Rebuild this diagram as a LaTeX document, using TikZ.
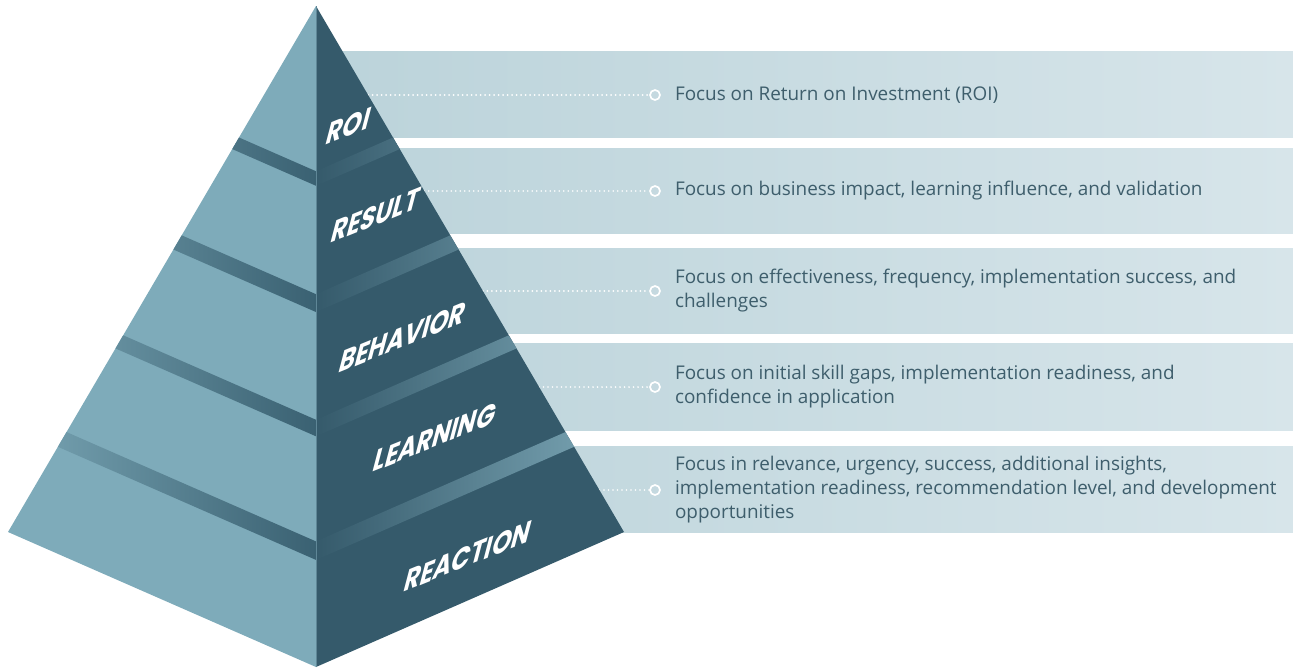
\documentclass[tikz,border=0pt]{standalone}
\usepackage{fontspec}
\setmainfont{Open Sans}
\newfontfamily\levelfont{Poppins}
\usetikzlibrary{calc,positioning}
\definecolor{PyrLight}{HTML}{7EABBA}
\definecolor{PyrDark}{HTML}{355A6B}
\definecolor{PyrEdge}{HTML}{5F8797}
\definecolor{BandLight}{HTML}{7AA6B5}
\definecolor{BandDark}{HTML}{3A6172}
\definecolor{BandTip}{HTML}{7DA8B7}
\definecolor{PanelLeft}{HTML}{BBD3DA}
\definecolor{PanelRight}{HTML}{D7E5EA}
\definecolor{FocusText}{HTML}{3E5E6C}
\tikzset{
  focusdot/.style={circle,draw=white,line width=1.7pt,minimum size=10pt,inner sep=0pt},
  focustext/.style={anchor=west,align=left,text=FocusText,inner sep=0pt,
    font=\fontsize{18.9}{24}\selectfont},
  dotline/.style={white,line width=1.8pt,line cap=round,dash pattern=on 0pt off 4.5pt},
  levellabel/.style={text=white,inner sep=0pt,font=\levelfont\bfseries\fontsize{26}{26}\selectfont,
    cm={0.94,0.38,0.32,1.22,(0,0)}}
}
\begin{document}
\begin{tikzpicture}[x=1pt,y=-1pt]
\useasboundingbox (0,0) rectangle (1293,667);
% pyramid corners
\coordinate (apex) at (316,6);
\coordinate (lft) at (8,532);
\coordinate (rgt) at (624,532);
\coordinate (btm) at (316,667);
% panels behind the pyramid
\foreach \n/\top/\bot in {roi/51/137,result/148/233,behavior/248/333,learning/343/430,reaction/446/532} {
  \shade[left color=PanelLeft,right color=PanelRight] (316,\top) rectangle (1293,\bot);
}
% dots, leaders and focus texts
\foreach \n/\y/\txt in {
  roi/95/{Focus on Return on Investment (ROI)},
  result/191/{Focus on business impact, learning influence, and validation},
  behavior/291/{Focus on effectiveness, frequency, implementation success, and\\challenges},
  learning/387/{Focus on initial skill gaps, implementation readiness, and\\confidence in application},
  reaction/490/{Focus in relevance, urgency, success, additional insights,\\implementation readiness, recommendation level, and development\\opportunities}} {
  \node[focusdot] (dot-\n) at (655,\y) {};
  \coordinate (edge-\n) at ($(apex)!{(\y-6)/526}!(rgt)$);
  \draw[dotline] (edge-\n) -- (dot-\n.west);
  \node[focustext,right=14pt of dot-\n] (txt-\n) {\txt};
}
% pyramid faces
\fill[PyrLight] (apex) -- (lft) -- (btm) -- cycle;
\fill[PyrDark] (apex) -- (btm) -- (rgt) -- cycle;
% bands, left face
\begin{scope}
  \clip foreach \a/\b in {0.250/0.272,0.436/0.463,0.626/0.651,0.810/0.838} {
    ($(apex)!\a!(lft)$) -- ($(apex)!\a!(btm)$) -- ($(apex)!\b!(btm)$) -- ($(apex)!\b!(lft)$) -- cycle};
  \shade[left color=BandLight,right color=BandDark] (8,0) rectangle (316,667);
\end{scope}
% bands, right face
\begin{scope}
  \clip foreach \a/\b in {0.250/0.272,0.436/0.463,0.626/0.651,0.810/0.838} {
    ($(apex)!\a!(btm)$) -- ($(apex)!\a!(rgt)$) -- ($(apex)!\b!(rgt)$) -- ($(apex)!\b!(btm)$) -- cycle};
  \shade[left color=PyrDark,right color=BandTip] (316,0) rectangle (624,667);
\end{scope}
\draw[PyrEdge,line width=1pt] (apex) -- (btm);
% level labels
\foreach \n/\x/\y/\lab in {roi/349/126/ROI,result/376/215/RESULT,behavior/403/337/BEHAVIOR,
  learning/435/437/LEARNING,reaction/468/556/REACTION} {
  \node[levellabel] (lab-\n) at (\x,\y) {\lab};
}
\end{tikzpicture}
\end{document}
